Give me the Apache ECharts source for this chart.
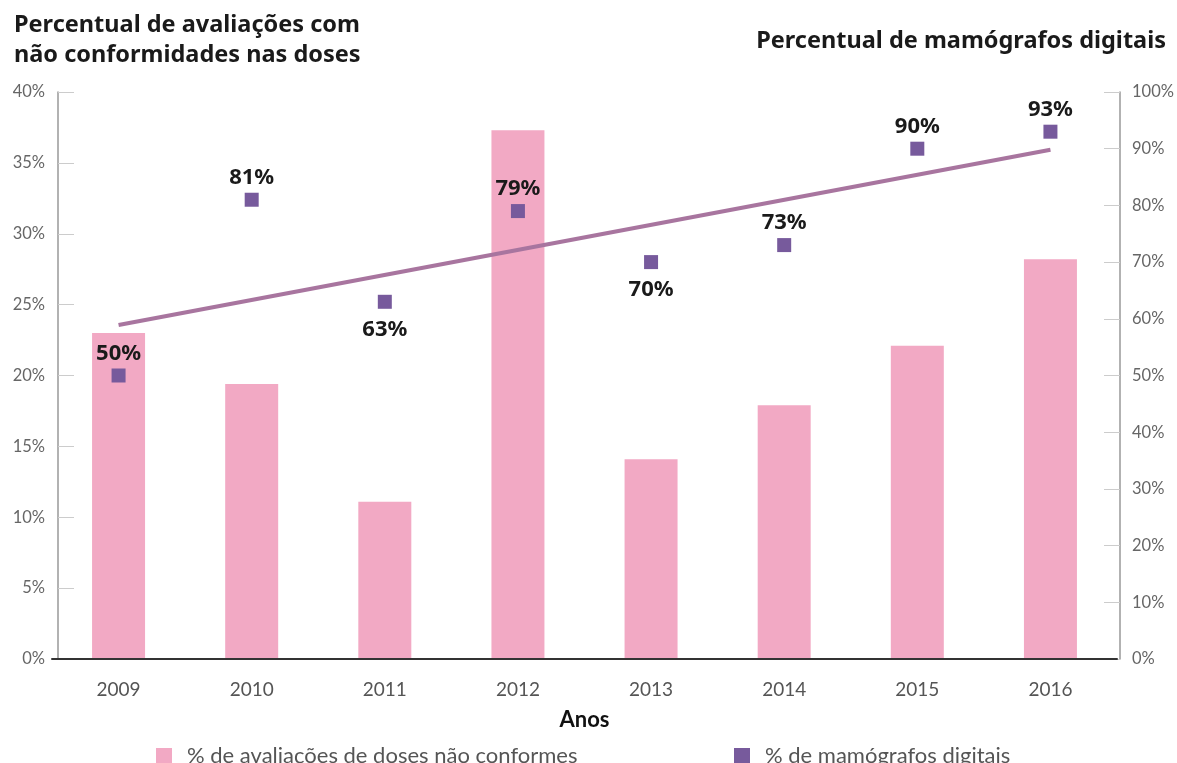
<!DOCTYPE html>
<html>
<head>
<meta charset="utf-8">
<script src="https://cdn.jsdelivr.net/npm/echarts@6/dist/echarts.min.js"></script>
<style>
  html, body { margin: 0; padding: 0; background: #fff; }
  #chart { width: 1177px; height: 763px; }
</style>
</head>
<body>
<div id="chart"></div>
<script>
// 数据
var anos = ['2009', '2010', '2011', '2012', '2013', '2014', '2015', '2016'];
var naoConformes = [23.0, 19.4, 11.1, 37.3, 14.1, 17.9, 22.1, 28.2];
var mamografos = [50, 81, 63, 79, 70, 73, 90, 93];
// 标签在点的上方还是下方
var rotuloPos = ['top', 'top', 'bottom', 'top', 'bottom', 'top', 'top', 'top'];
// 趋势线两端（右轴 %）
var tendencia = [58.9, 89.8];

var chart = echarts.init(document.getElementById('chart'));

var fonte = 'Lato, "Noto Sans", sans-serif';

var option = {
  backgroundColor: '#fff',
  textStyle: { fontFamily: fonte },
  title: [
    {
      text: 'Percentual de avaliações com\nnão conformidades nas doses',
      left: 9, top: 5,
      textStyle: { fontSize: 23.5, fontWeight: 'bold', color: '#1a1a1a', lineHeight: 30, fontFamily: '"Noto Sans", sans-serif' }
    },
    {
      text: 'Percentual de mamógrafos digitais',
      right: 6, top: 24,
      textStyle: { fontSize: 23.5, fontWeight: 'bold', color: '#1a1a1a', fontFamily: '"Noto Sans", sans-serif' }
    }
  ],
  legend: [
    {
      data: ['% de avaliações de doses não conformes'],
      icon: 'rect',
      left: 151, top: 740,
      itemWidth: 16, itemHeight: 16,
      textStyle: { fontSize: 22, color: '#555', fontFamily: fonte, padding: [0, 0, 0, 10] }
    },
    {
      data: ['% de mamógrafos digitais'],
      icon: 'rect',
      left: 729, top: 740,
      itemWidth: 16, itemHeight: 16,
      itemStyle: { opacity: 1 },
      textStyle: { fontSize: 22, color: '#555', fontFamily: fonte, padding: [0, 0, 0, 10] }
    }
  ],
  grid: { left: 52, right: 60, top: 92, bottom: 104 },
  xAxis: {
    type: 'category',
    data: anos,
    z: 5,
    name: 'Anos',
    nameLocation: 'middle',
    nameGap: 50,
    nameTextStyle: { fontSize: 22, fontWeight: 'bold', color: '#111' },
    axisLine: { lineStyle: { color: '#333', width: 2 } },
    axisTick: { show: false },
    axisLabel: { fontSize: 19, color: '#555', margin: 21 }
  },
  yAxis: [
    {
      type: 'value', min: 0, max: 40, interval: 5,
      offset: -6,
      axisLine: { show: true, lineStyle: { color: '#999', width: 1.5 } },
      axisTick: { show: true, inside: true, length: 16, lineStyle: { color: '#ccc' } },
      splitLine: { show: false },
      axisLabel: { formatter: '{value}%', fontSize: 16.5, color: '#666', margin: 13 }
    },
    {
      type: 'value', min: 0, max: 100, interval: 10,
      offset: 3,
      axisLine: { show: true, lineStyle: { color: '#999', width: 1.5 } },
      axisTick: { show: true, inside: true, length: 16, lineStyle: { color: '#ccc' } },
      splitLine: { show: false },
      axisLabel: { formatter: '{value}%', fontSize: 16.5, color: '#666', margin: 12 }
    }
  ],
  series: [
    {
      name: '% de avaliações de doses não conformes',
      type: 'bar',
      yAxisIndex: 0,
      barWidth: 53,
      itemStyle: { color: '#f2a9c4' },
      data: naoConformes
    },
    {
      name: 'tendência',
      type: 'line',
      yAxisIndex: 1,
      symbol: 'none',
      silent: true,
      lineStyle: { color: '#a8759f', width: 4 },
      data: [[anos[0], tendencia[0]], [anos[anos.length - 1], tendencia[1]]],
      z: 3
    },
    {
      name: '% de mamógrafos digitais',
      type: 'scatter',
      yAxisIndex: 1,
      symbol: 'rect',
      symbolSize: 14,
      itemStyle: { color: '#775a9c', opacity: 1 },
      label: {
        show: true,
        formatter: '{c}%',
        fontSize: 22,
        fontWeight: 'bold',
        color: '#1a1a1a',
        fontFamily: '"Noto Sans", sans-serif'
      },
      data: mamografos.map(function (v, i) {
        var acima = rotuloPos[i] === 'top';
        return { value: v, label: { position: rotuloPos[i], distance: acima ? 4 : 10 } };
      }),
      z: 4
    }
  ]
};

chart.setOption(option);
</script>
</body>
</html>
